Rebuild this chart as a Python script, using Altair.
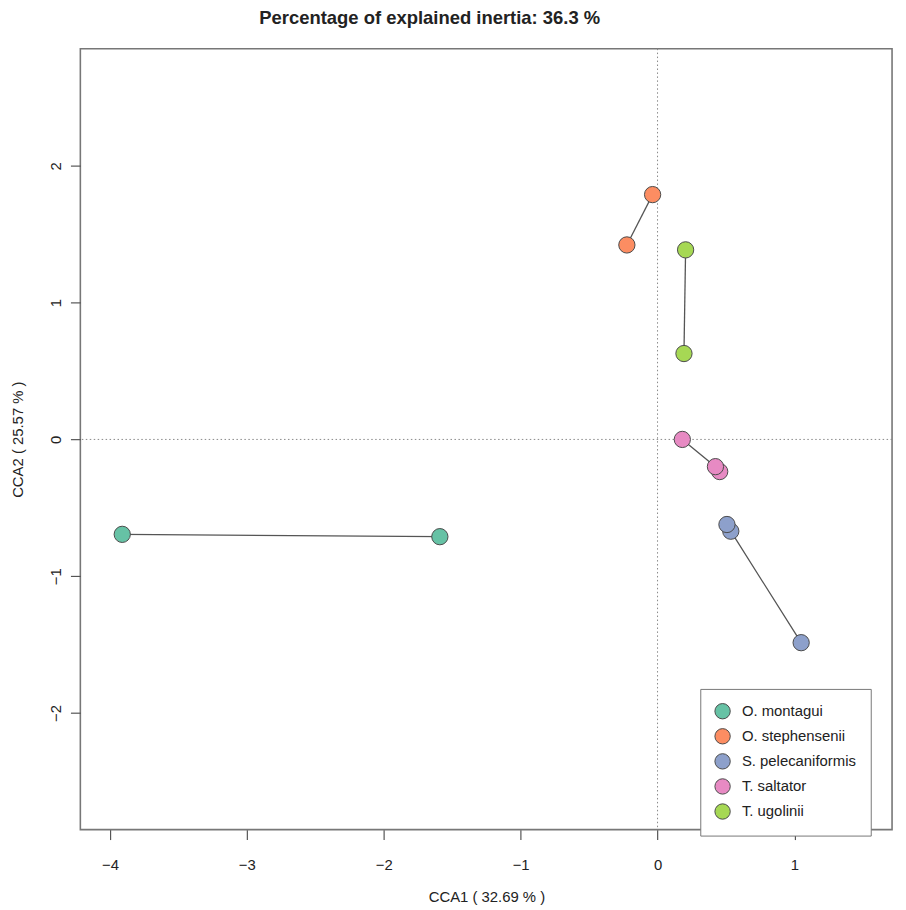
import altair as alt
import pandas as pd

species_names = ["O. montagui", "O. stephensenii", "S. pelecaniformis", "T. saltator", "T. ugolinii"]
species_colors = ["#66C2A5", "#FC8D62", "#8DA0CB", "#E78AC3", "#A6D854"]

pt_species = ["O. montagui", "O. montagui",
              "O. stephensenii", "O. stephensenii",
              "T. ugolinii", "T. ugolinii",
              "T. saltator", "T. saltator", "T. saltator",
              "S. pelecaniformis", "S. pelecaniformis", "S. pelecaniformis"]
pt_seq = [1, 2, 1, 2, 1, 2, 1, 3, 2, 3, 2, 1]
cca1 = [-3.91, -1.59, -0.036, -0.224, 0.205, 0.193, 0.181, 0.454, 0.423, 1.049, 0.535, 0.507]
cca2 = [-0.694, -0.711, 1.790, 1.422, 1.386, 0.628, 0.0, -0.235, -0.199, -1.486, -0.671, -0.622]

x_ticks = [-4, -3, -2, -1, 0, 1]
y_ticks = [-2, -1, 0, 1, 2]
x_domain = [-4.216, 1.713]
y_domain = [-2.853, 2.857]

df = pd.DataFrame({"species": pt_species, "seq": pt_seq, "CCA1": cca1, "CCA2": cca2})
df["draw"] = range(len(df))

FONT = "Liberation Sans"

xscale = alt.Scale(domain=x_domain, nice=False, zero=False)
yscale = alt.Scale(domain=y_domain, nice=False, zero=False)

x_axis = alt.Axis(values=x_ticks, title="CCA1 ( 32.69 % )", grid=False, domain=False,
                  tickSize=10, tickColor="#555", tickWidth=1.2, labelPadding=18,
                  labelBaseline="top", labelFontSize=15, labelFont=FONT, labelColor="#222",
                  titleFont=FONT, titleFontSize=15, titleFontWeight="normal", titleColor="#222",
                  titleX=409.7, titleY=68, titleBaseline="middle", titleAlign="center")
y_axis = alt.Axis(values=y_ticks, title="CCA2 ( 25.57 % )", grid=False, domain=False,
                  tickSize=10, tickColor="#555", tickWidth=1.2, labelPadding=7,
                  labelAngle=-90, labelAlign="center", labelBaseline="bottom",
                  labelFontSize=15, labelFont=FONT, labelColor="#222",
                  titleFont=FONT, titleFontSize=15, titleFontWeight="normal", titleColor="#222",
                  titleX=-63, titleY=394, titleAngle=-90, titleBaseline="middle", titleAlign="center")

base = alt.Chart(df)

zero_v = alt.Chart(pd.DataFrame({"v": [0]})).mark_rule(
    color="#888", strokeDash=[1.5, 2.5], strokeWidth=1).encode(
    x=alt.X("v:Q", scale=xscale, axis=x_axis))
zero_h = alt.Chart(pd.DataFrame({"v": [0]})).mark_rule(
    color="#888", strokeDash=[1.5, 2.5], strokeWidth=1).encode(
    y=alt.Y("v:Q", scale=yscale, axis=y_axis))

lines = base.mark_line(color="#555", strokeWidth=1.3).encode(
    x=alt.X("CCA1:Q", scale=xscale, axis=x_axis),
    y=alt.Y("CCA2:Q", scale=yscale, axis=y_axis),
    detail="species:N",
    order="seq:Q",
)

points = base.mark_point(filled=True, size=270, opacity=1, stroke="#4a4a4a",
                         strokeWidth=1, shape="circle").encode(
    x=alt.X("CCA1:Q", scale=xscale, axis=x_axis),
    y=alt.Y("CCA2:Q", scale=yscale, axis=y_axis),
    color=alt.Color("species:N",
                    scale=alt.Scale(domain=species_names, range=species_colors),
                    legend=alt.Legend(title=None, orient="none", legendX=625.5, legendY=646,
                                      padding=14, strokeColor="#777",
                                      fillColor="white", symbolType="circle", symbolSize=240,
                                      symbolStrokeColor="#4a4a4a", symbolStrokeWidth=1,
                                      symbolOpacity=1,
                                      labelFont=FONT, labelFontSize=15, labelColor="#222",
                                      labelOffset=11, rowPadding=4.3)),
    order="draw:Q",
)

chart = alt.layer(zero_v, zero_h, lines, points).properties(
    width=819,
    height=788,
    autosize=alt.AutoSizeParams(type="none"),
    padding={"left": 73, "top": 37, "right": 6, "bottom": 73},
    title=alt.TitleParams("Percentage of explained inertia: 36.3 %", font=FONT, fontSize=18.6,
                          fontWeight="bold", color="#222", anchor="middle", dx=-57,
                          offset=6, baseline="alphabetic", frame="group"),
).configure_view(stroke="#777", strokeWidth=1.6)

chart.save("out.html", embed_options={"renderer": "svg", "actions": False})
